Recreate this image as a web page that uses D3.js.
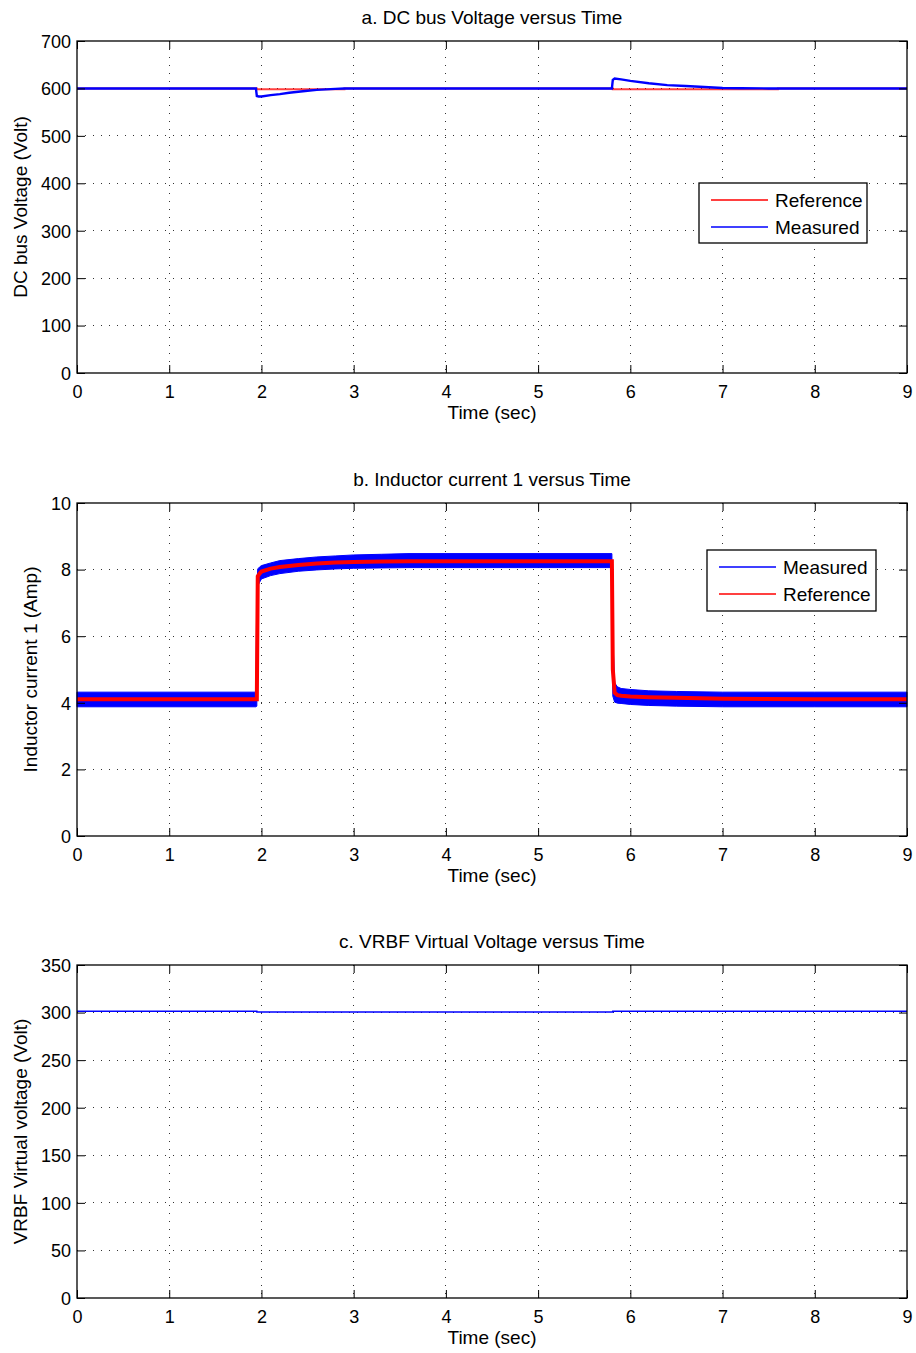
<!DOCTYPE html>
<html><head><meta charset="utf-8">
<script src="https://cdn.jsdelivr.net/npm/d3@7"></script>
<style>
body{margin:0;background:#fff;}
svg text{font-family:"Liberation Sans",Arial,sans-serif;fill:#000;}
</style></head>
<body><svg id="chart" width="916" height="1353"></svg>
<script>
// ---- Shared axis ticks ----
const xTicks = [0,1,2,3,4,5,6,7,8,9];
const yTicksA = [0,100,200,300,400,500,600,700];
const yTicksB = [0,2,4,6,8,10];
const yTicksC = [0,50,100,150,200,250,300,350];

// ---- Panel a: DC bus voltage ----
const timeA = [0,1.94,1.95,1.97,2.0,2.1,2.2,2.3,2.4,2.5,2.6,2.7,2.8,2.9,3.0,5.80,5.81,5.83,5.9,6.0,6.2,6.4,6.6,6.8,7.0,7.2,7.5,9];
const measuredA = [600,600,584,583,583,586,588,591,593,595,597,598,599,600,600,600,618,621,619,616,611,607,605,603,601,600.5,600,600];
const refTimeA = [0,1.95,1.95,2.9,2.9,5.81,5.81,7.6,7.6,9];
const referenceA = [600,600,598.5,598.5,600,600,598.5,598.5,600,600];

// ---- Panel b: Inductor current 1 ----
const timeB = [0,1.94,1.95,1.96,1.98,2.0,2.1,2.2,2.4,2.6,2.8,3.0,3.3,3.6,4.0,5.0,5.80,5.81,5.83,5.86,5.9,6.0,6.2,6.5,7.0,8.0,9];
const upperB = [4.32,4.32,7.6,8.02,8.08,8.12,8.2,8.27,8.33,8.38,8.41,8.44,8.46,8.48,8.48,8.48,8.48,6.0,4.6,4.48,4.43,4.40,4.36,4.34,4.32,4.32,4.32];
const lowerB = [3.88,3.88,3.9,7.5,7.62,7.72,7.82,7.88,7.95,7.99,8.02,8.04,8.05,8.06,8.06,8.06,8.06,4.2,4.02,3.99,3.98,3.95,3.92,3.9,3.88,3.88,3.88];
const referenceB = [4.11,4.11,4.11,7.8,7.88,7.94,8.03,8.08,8.14,8.18,8.21,8.23,8.24,8.25,8.25,8.25,8.25,5.0,4.3,4.23,4.21,4.19,4.17,4.15,4.12,4.11,4.11];

// ---- Panel c: VRBF virtual voltage ----
const timeC = [0,1.95,1.95,5.81,5.81,9];
const voltageC = [301.3,301.3,300.6,300.6,301.3,301.3];

const svg = d3.select("#chart");
const left = 77, right = 907;
const panels = [
  {top:41, bottom:373, yDomain:[0,700], yTicks:yTicksA, title:"a. DC bus Voltage versus Time", ylabel:"DC bus Voltage (Volt)", ylabelX:20},
  {top:503, bottom:836, yDomain:[0,10], yTicks:yTicksB, title:"b. Inductor current 1 versus Time", ylabel:"Inductor current 1 (Amp)", ylabelX:30},
  {top:965, bottom:1298, yDomain:[0,350], yTicks:yTicksC, title:"c. VRBF Virtual Voltage versus Time", ylabel:"VRBF Virtual voltage (Volt)", ylabelX:20}
];

const fsTick = 18, fs = 19;
panels.forEach((p,i)=>{
  const x = d3.scaleLinear().domain([0,9]).range([left,right]);
  const y = d3.scaleLinear().domain(p.yDomain).range([p.bottom,p.top]);
  p.x = x; p.y = y;
  const g = svg.append("g");
  g.selectAll(".vg").data(xTicks.slice(1,-1)).enter().append("line")
    .attr("x1",d=>x(d)).attr("x2",d=>x(d)).attr("y1",p.top).attr("y2",p.bottom)
    .attr("stroke","#333").attr("stroke-width",1).attr("stroke-dasharray","1,7").attr("shape-rendering","crispEdges");
  g.selectAll(".hg").data(p.yTicks.slice(1,-1)).enter().append("line")
    .attr("x1",left).attr("x2",right).attr("y1",d=>y(d)).attr("y2",d=>y(d))
    .attr("stroke","#333").attr("stroke-width",1).attr("stroke-dasharray","1,7").attr("shape-rendering","crispEdges");
  p.g = g;
});

function drawAxes(p){
  const g = svg.append("g");
  const x = p.x, y = p.y;
  const tl = 8;
  const ax = g.append("g").attr("transform",`translate(0,${p.bottom})`)
    .call(d3.axisBottom(x).tickValues(xTicks).tickFormat(d3.format("d")).tickSizeInner(-tl).tickSizeOuter(0).tickPadding(12));
  const ax2 = g.append("g").attr("transform",`translate(0,${p.top})`)
    .call(d3.axisTop(x).tickValues(xTicks).tickFormat("").tickSizeInner(-tl).tickSizeOuter(0));
  const ay = g.append("g").attr("transform",`translate(${left},0)`)
    .call(d3.axisLeft(y).tickValues(p.yTicks).tickFormat(d3.format("d")).tickSizeInner(-tl).tickSizeOuter(0).tickPadding(6));
  const ay2 = g.append("g").attr("transform",`translate(${right},0)`)
    .call(d3.axisRight(y).tickValues(p.yTicks).tickFormat("").tickSizeInner(-tl).tickSizeOuter(0));
  [ax,ax2,ay,ay2].forEach(a=>{
    a.select(".domain").remove();
    a.selectAll("line").attr("stroke","#000");
    a.selectAll("text").attr("font-size",fsTick).attr("font-family","Liberation Sans, Arial, sans-serif").attr("fill","#000");
  });
  ay.selectAll("text").attr("dy","0.35em");
  g.append("rect").attr("x",left).attr("y",p.top).attr("width",right-left).attr("height",p.bottom-p.top)
    .attr("fill","none").attr("stroke","#000").attr("stroke-width",1.3);
  g.append("text").attr("x",(left+right)/2).attr("y",p.top-17).attr("text-anchor","middle").attr("font-size",fs).text(p.title);
  g.append("text").attr("x",(left+right)/2).attr("y",p.bottom+46).attr("text-anchor","middle").attr("font-size",fs).text("Time (sec)");
  g.append("text").attr("transform",`translate(${p.ylabelX+7},${(p.top+p.bottom)/2}) rotate(-90)`)
    .attr("text-anchor","middle").attr("font-size",fs).text(p.ylabel);
}

// Panel a
{
  const p = panels[0];
  const line = d3.line().x(d=>p.x(d[0])).y(d=>p.y(d[1]));
  p.g.append("path").datum(d3.zip(refTimeA,referenceA)).attr("d",line).attr("fill","none").attr("stroke","#ff0000").attr("stroke-width",2).attr("opacity",0.75);
  p.g.append("path").datum(d3.zip(timeA,measuredA)).attr("d",line).attr("fill","none").attr("stroke","#0000ff").attr("stroke-width",2.4);
  drawAxes(p);
}
// Panel b
{
  const p = panels[1];
  const area = d3.area().x(d=>p.x(d[0])).y0(d=>p.y(d[2])).y1(d=>p.y(d[1]));
  p.g.append("path").datum(d3.zip(timeB,upperB,lowerB)).attr("d",area).attr("fill","#0000ff").attr("stroke","#0000ff").attr("stroke-width",1);
  const line = d3.line().x(d=>p.x(d[0])).y(d=>p.y(d[1]));
  p.g.append("path").datum(d3.zip(timeB,referenceB)).attr("d",line).attr("fill","none").attr("stroke","#ff0000").attr("stroke-width",4);
  drawAxes(p);
}
// Panel c
{
  const p = panels[2];
  const line = d3.line().x(d=>p.x(d[0])).y(d=>p.y(d[1]));
  p.g.append("path").datum(d3.zip(timeC,voltageC)).attr("d",line).attr("fill","none").attr("stroke","#0000ff").attr("stroke-width",1.5);
  drawAxes(p);
}

// Legends
function legend(x0,y0,w,h,items){
  const g = svg.append("g");
  g.append("rect").attr("x",x0).attr("y",y0).attr("width",w).attr("height",h).attr("fill","#fff").attr("stroke","#000").attr("stroke-width",1.3);
  items.forEach((it,i)=>{
    const yy = y0+17+i*27;
    g.append("line").attr("x1",x0+12).attr("x2",x0+69).attr("y1",yy).attr("y2",yy).attr("stroke",it.c).attr("stroke-width",1.3);
    g.append("text").attr("x",x0+76).attr("y",yy).attr("dy","0.35em").attr("font-size",fs).text(it.t);
  });
}
legend(699,183,168,60,[{t:"Reference",c:"#ff0000"},{t:"Measured",c:"#0000ff"}]);
legend(707,550,169,61,[{t:"Measured",c:"#0000ff"},{t:"Reference",c:"#ff0000"}]);
</script></body></html>
